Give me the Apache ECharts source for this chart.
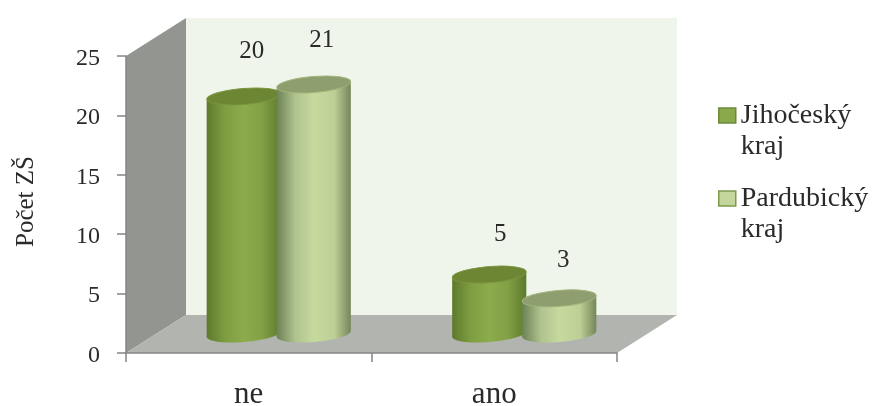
<!DOCTYPE html>
<html>
<head>
<meta charset="utf-8">
<style>html,body{margin:0;padding:0;background:#fff}#chart{width:880px;height:406px}</style>
<script src="https://cdn.jsdelivr.net/npm/echarts@6/dist/echarts.min.js"></script>
</head>
<body>
<div id="chart"></div>
<script>
// Survey answers: number of primary schools per region
const categories = ['ne', 'ano'];
const jihocesky = [20, 5];
const pardubicky = [21, 3];
const seriesNames = ['Jihočeský kraj', 'Pardubický kraj'];
const yTickStep = 5;
const yMax = 25;

// Oblique projection of the plot box
const DEPTH_X = 60, DEPTH_Y = 38;
// Ellipses lean slightly so that their right ends sit higher
const TILT = 4.5 * Math.PI / 180;
const SERIF = '"Liberation Serif", "Times New Roman", serif';
const INK = '#2a2a2a';
const AXIS_GREY = '#858585';

function sideGradient(stops) {
  return new echarts.graphic.LinearGradient(0, 0, 1, 0,
    stops.map(([offset, color]) => ({ offset, color })));
}

const looks = [
  {
    offset: -0.1426,
    side: sideGradient([[0, '#5d7a2c'], [0.25, '#7f9e42'], [0.5, '#8cab4c'], [0.75, '#82a045'], [1, '#5d7a2b']]),
    top: '#6c8634', rim: '#7d9440',
    labelShift: [8, 11],
    labelLift: [44.5, 40.5]
  },
  {
    offset: 0.1426,
    side: sideGradient([[0, '#6c8255'], [0.25, '#b0c28e'], [0.5, '#c6da9e'], [0.78, '#bccf95'], [1, '#75875a']]),
    top: '#8f9e6e', rim: '#a3b47c',
    labelShift: [8, 4],
    labelLift: [44, 38]
  }
];

// Draws the side wall, back wall and floor from the grid rectangle
function renderBox(params) {
  const r = params.coordSys;
  const poly = (points, fill) => ({ type: 'polygon', shape: { points }, style: { fill } });
  const left = r.x, right = r.x + r.width, top = r.y, bottom = r.y + r.height;
  return {
    type: 'group',
    children: [
      poly([[left + DEPTH_X, top - DEPTH_Y], [right + DEPTH_X, top - DEPTH_Y],
            [right + DEPTH_X, bottom - DEPTH_Y], [left + DEPTH_X, bottom - DEPTH_Y]], '#eff5ea'),
      poly([[left, top], [left + DEPTH_X, top - DEPTH_Y],
            [left + DEPTH_X, bottom - DEPTH_Y], [left, bottom]], '#939591'),
      poly([[left, bottom], [left + DEPTH_X, bottom - DEPTH_Y],
            [right + DEPTH_X, bottom - DEPTH_Y], [right, bottom]], '#b2b4b0')
    ]
  };
}

// A cylinder standing halfway into the floor, with its value written above it
function cylinderRenderer(look) {
  return function (params, api) {
    const cat = api.value(0);
    const band = api.size([1, 0])[0];
    const p = api.coord([cat, api.value(1)]);
    const base = api.coord([cat, 0]);
    const cx = p[0] + look.offset * band + DEPTH_X / 2;
    const topY = p[1] - DEPTH_Y / 2;
    const baseY = base[1] - DEPTH_Y / 2;
    const rx = band * 0.151, ry = 8;
    const lean = rx * Math.sin(TILT);
    const disc = (cy, style) => ({
      type: 'ellipse',
      shape: { cx: 0, cy: 0, rx, ry },
      x: cx, y: cy, rotation: TILT,
      style
    });
    return {
      type: 'group',
      children: [
        disc(baseY, { fill: look.side }),
        {
          type: 'polygon',
          shape: {
            points: [[cx - rx, topY + lean], [cx + rx, topY - lean], [cx + rx, baseY - lean], [cx - rx, baseY + lean]]
          },
          style: { fill: look.side }
        },
        disc(topY, { fill: look.top, stroke: look.rim, lineWidth: 1 }),
        {
          type: 'text',
          x: cx + look.labelShift[cat],
          y: topY - look.labelLift[cat],
          style: {
            text: String(api.value(1)), font: '25px ' + SERIF, fill: INK,
            align: 'center', verticalAlign: 'middle'
          }
        }
      ]
    };
  };
}

const toPairs = values => values.map((v, i) => [i, v]);

const chart = echarts.init(document.getElementById('chart'), null, { renderer: 'canvas' });
chart.setOption({
  animation: false,
  backgroundColor: '#ffffff',
  grid: { left: 126, right: 263, top: 56, bottom: 53, outerBoundsMode: 'none' },
  legend: {
    orient: 'vertical',
    left: 718,
    top: 69,
    padding: 0,
    itemWidth: 17,
    itemHeight: 15,
    itemGap: -10,
    icon: 'rect',
    selectedMode: false,
    // A leading empty line keeps the swatch beside the first line of the name
    formatter: name => '\n' + name.replace(' ', '\n'),
    textStyle: { fontFamily: SERIF, fontSize: 28, lineHeight: 31, color: INK },
    data: [
      { name: seriesNames[0], itemStyle: { color: '#8aa94b', borderColor: '#6c8a3a', borderWidth: 1.5 } },
      { name: seriesNames[1], itemStyle: { color: '#c3d69b', borderColor: '#7f9a4e', borderWidth: 1.5 } }
    ]
  },
  xAxis: {
    type: 'category',
    data: categories,
    z: 5,
    axisLine: { lineStyle: { color: AXIS_GREY, width: 1.5 } },
    axisTick: { show: true, alignWithLabel: false, length: 9, lineStyle: { color: AXIS_GREY, width: 1.5 } },
    axisLabel: { margin: 26, fontFamily: SERIF, fontSize: 31, color: INK }
  },
  yAxis: {
    type: 'value',
    min: 0,
    max: yMax,
    interval: yTickStep,
    name: 'Počet ZŠ',
    nameLocation: 'middle',
    nameGap: 87,
    nameRotate: 90,
    nameTextStyle: { fontFamily: SERIF, fontSize: 25, color: INK, padding: [0, 0, 0, 6] },
    z: 5,
    splitLine: { show: false },
    axisLine: { show: true, lineStyle: { color: AXIS_GREY, width: 1.5 } },
    axisTick: { show: true, length: 9, lineStyle: { color: AXIS_GREY, width: 1.5 } },
    axisLabel: {
      margin: 26,
      color: INK,
      formatter: '{tick|{value}}',
      rich: { tick: { fontFamily: SERIF, fontSize: 24, color: INK, padding: [5, 0, 0, 0] } }
    }
  },
  series: [
    { type: 'custom', silent: true, z: 1, data: [0], renderItem: renderBox },
    {
      type: 'custom', name: seriesNames[0], z: 2, clip: false,
      encode: { x: 0, y: 1 }, data: toPairs(jihocesky), renderItem: cylinderRenderer(looks[0])
    },
    {
      type: 'custom', name: seriesNames[1], z: 3, clip: false,
      encode: { x: 0, y: 1 }, data: toPairs(pardubicky), renderItem: cylinderRenderer(looks[1])
    }
  ]
});
</script>
</body>
</html>
